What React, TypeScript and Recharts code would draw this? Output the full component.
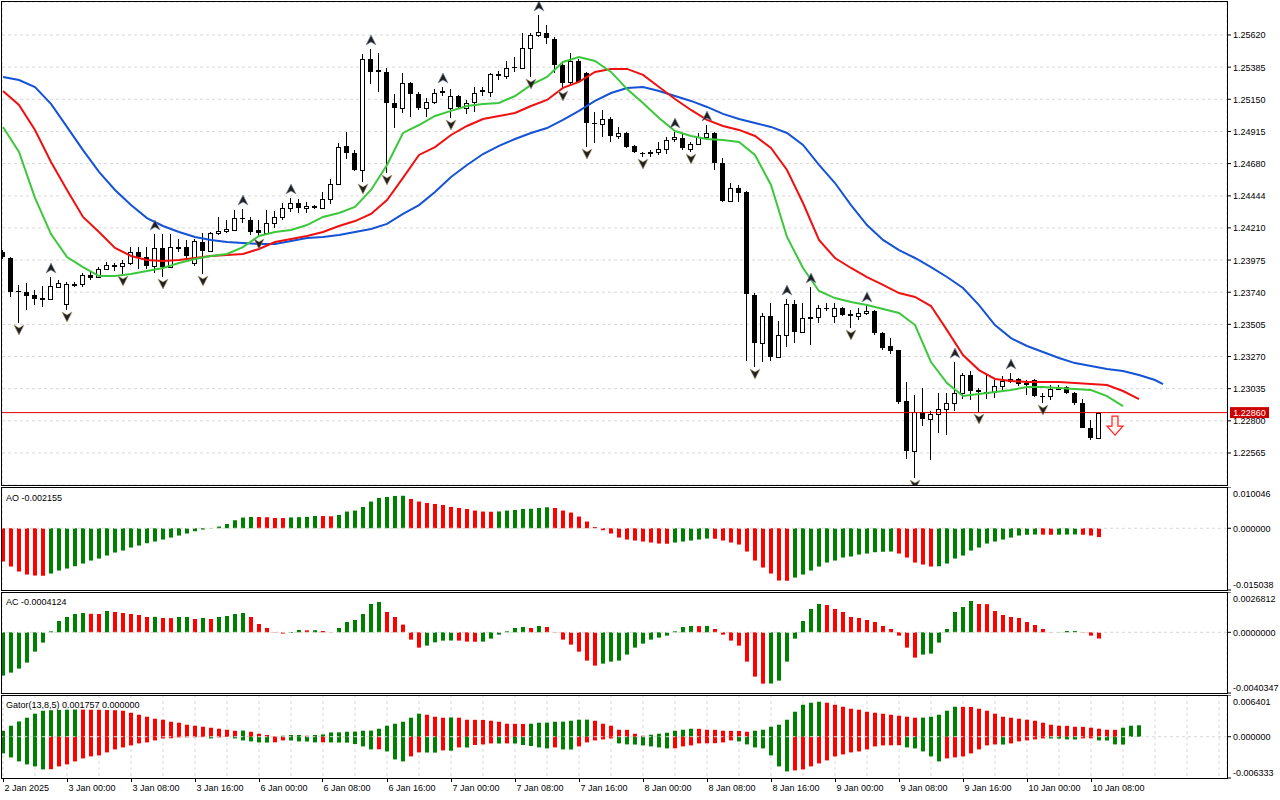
import React from "react";
import {
  Bar,
  CartesianGrid,
  Cell,
  ComposedChart,
  Line,
  ReferenceLine,
  Scatter,
  XAxis,
  YAxis,
} from "recharts";

// GBPUSD-style H1 bars, 2 Jan 16:00 .. 10 Jan 09:00 (bar index = position on the x axis)
const OPEN = [
  1.24034, 1.2399, 1.23749, 1.23741, 1.2372, 1.2369, 1.2369, 1.23778, 1.23654, 1.238,
  1.23803, 1.23866, 1.23851, 1.2391, 1.23939, 1.23932, 1.23953, 1.24034, 1.23997, 1.23932,
  1.24063, 1.23924, 1.2407, 1.2407, 1.23953, 1.24107, 1.24041, 1.24173, 1.24187, 1.24195,
  1.24282, 1.24268, 1.24195, 1.24173, 1.24246, 1.2429, 1.24356, 1.24392, 1.24356, 1.2437,
  1.24356, 1.24421, 1.24531, 1.24809, 1.24758, 1.24633, 1.25445, 1.25364, 1.2535, 1.25123,
  1.25087, 1.25269, 1.25189, 1.25087, 1.2513, 1.25211, 1.25087, 1.25174, 1.25087, 1.2513,
  1.25218, 1.25203, 1.25335, 1.2532, 1.25386, 1.25379, 1.25525, 1.2562, 1.25635, 1.25591,
  1.25401, 1.25277, 1.2543, 1.25342, 1.24977, 1.2497, 1.25006, 1.24882, 1.24904, 1.24809,
  1.2476, 1.24762, 1.24765, 1.24787, 1.2486, 1.24867, 1.24787, 1.24823, 1.24875, 1.24904,
  1.24684, 1.24407, 1.24502, 1.24472, 1.2372, 1.23369, 1.23566, 1.23266, 1.23427, 1.23654,
  1.23449, 1.23551, 1.2356, 1.23625, 1.23566, 1.23625, 1.23581, 1.23566, 1.23588, 1.23603,
  1.23441, 1.23347, 1.23317, 1.22944, 1.22579, 1.22864, 1.22813, 1.2285, 1.22886, 1.2293,
  1.23003, 1.23135, 1.23025, 1.2301, 1.2301, 1.23054, 1.23091, 1.23106, 1.23069, 1.23098,
  1.22981, 1.22978, 1.23032, 1.23045, 1.23003, 1.2293, 1.22747, 1.22674,
];
const HIGH = [
  1.24048, 1.23997, 1.23793, 1.23807, 1.23756, 1.23785, 1.23851, 1.23829, 1.23815, 1.23815,
  1.2388, 1.23895, 1.23924, 1.23961, 1.23953, 1.23975, 1.2407, 1.2407, 1.2407, 1.24165,
  1.24165, 1.24165, 1.24129, 1.24122, 1.24129, 1.24173, 1.2418, 1.2429, 1.24268, 1.24341,
  1.24348, 1.2429, 1.24268, 1.24341, 1.24334, 1.24392, 1.24429, 1.24421, 1.24399, 1.24377,
  1.24472, 1.24568, 1.24831, 1.24911, 1.24779, 1.25481, 1.25518, 1.25489, 1.25379, 1.25189,
  1.25342, 1.25277, 1.25203, 1.2516, 1.25225, 1.2524, 1.25225, 1.25182, 1.25145, 1.2524,
  1.2524, 1.25342, 1.25357, 1.2543, 1.25459, 1.25635, 1.25635, 1.25766, 1.25693, 1.25606,
  1.25415, 1.25489, 1.25445, 1.2535, 1.25057, 1.25072, 1.25021, 1.24948, 1.24911, 1.24816,
  1.24765, 1.24779, 1.24838, 1.24875, 1.24911, 1.24904, 1.24838, 1.24904, 1.24962, 1.24911,
  1.24721, 1.24538, 1.24524, 1.24478, 1.23734, 1.23588, 1.23661, 1.23529, 1.2369, 1.23683,
  1.23661, 1.23778, 1.23646, 1.23661, 1.23661, 1.23632, 1.2361, 1.23625, 1.2364, 1.2361,
  1.23449, 1.23405, 1.2332, 1.23084, 1.22989, 1.2304, 1.22872, 1.23003, 1.23003, 1.2323,
  1.23149, 1.23164, 1.2304, 1.23135, 1.23098, 1.23127, 1.23149, 1.23113, 1.23098, 1.23106,
  1.23003, 1.23062, 1.23062, 1.23054, 1.2301, 1.22959, 1.22806, 1.22866,
];
const LOW = [
  1.23983, 1.23705, 1.23515, 1.2361, 1.23646, 1.23632, 1.23683, 1.23771, 1.2361, 1.23778,
  1.23778, 1.23829, 1.23844, 1.23902, 1.23895, 1.23873, 1.23939, 1.2391, 1.2391, 1.2388,
  1.23851, 1.23917, 1.24034, 1.23975, 1.23932, 1.23873, 1.24034, 1.24158, 1.24173, 1.24187,
  1.24246, 1.24158, 1.24144, 1.24158, 1.24209, 1.24268, 1.24326, 1.24319, 1.24319, 1.24348,
  1.2435, 1.24385, 1.24524, 1.24714, 1.24626, 1.24546, 1.25262, 1.25203, 1.24611, 1.2494,
  1.2505, 1.25021, 1.25072, 1.25021, 1.25116, 1.25174, 1.25013, 1.25087, 1.25043, 1.25057,
  1.25174, 1.25167, 1.25291, 1.25299, 1.2535, 1.25376, 1.25313, 1.25606, 1.25554, 1.25342,
  1.25225, 1.25255, 1.25269, 1.24801, 1.24831, 1.24875, 1.24838, 1.2486, 1.24794, 1.2476,
  1.24728, 1.24728, 1.24743, 1.2475, 1.24838, 1.24779, 1.24765, 1.24816, 1.24867, 1.24633,
  1.24399, 1.24399, 1.24399, 1.23237, 1.23193, 1.2323, 1.23237, 1.23259, 1.23339, 1.23369,
  1.23441, 1.23354, 1.23515, 1.23603, 1.23515, 1.23566, 1.23478, 1.23537, 1.23573, 1.23427,
  1.23317, 1.23288, 1.22923, 1.22521, 1.22382, 1.22762, 1.22513, 1.22711, 1.22696, 1.22872,
  1.22959, 1.22952, 1.22864, 1.22959, 1.22967, 1.23025, 1.23076, 1.23054, 1.22989, 1.22974,
  1.2293, 1.22952, 1.23025, 1.22996, 1.22915, 1.22745, 1.2266, 1.22668,
];
const CLOSE = [
  1.23997, 1.23741, 1.23741, 1.23712, 1.2369, 1.23695, 1.23785, 1.23807, 1.238, 1.23803,
  1.23866, 1.23844, 1.2391, 1.23939, 1.23942, 1.23953, 1.24034, 1.23997, 1.23932, 1.24063,
  1.23924, 1.2407, 1.24073, 1.24005, 1.24114, 1.24041, 1.24173, 1.24187, 1.24202, 1.24282,
  1.24278, 1.2418, 1.24173, 1.24246, 1.2429, 1.24356, 1.24392, 1.24356, 1.2437, 1.24356,
  1.24421, 1.24531, 1.24801, 1.24758, 1.24633, 1.25445, 1.2535, 1.2535, 1.25123, 1.25087,
  1.25269, 1.25189, 1.25087, 1.2513, 1.25196, 1.25196, 1.25174, 1.25094, 1.25123, 1.25196,
  1.252, 1.25335, 1.2532, 1.25379, 1.25376, 1.25525, 1.2562, 1.25642, 1.25598, 1.25401,
  1.25269, 1.2543, 1.25277, 1.24977, 1.24975, 1.25006, 1.24882, 1.24904, 1.24801, 1.24765,
  1.24758, 1.24765, 1.24787, 1.24853, 1.24875, 1.24794, 1.24823, 1.24875, 1.24904, 1.24684,
  1.24407, 1.24502, 1.24465, 1.23727, 1.23369, 1.23566, 1.23266, 1.23427, 1.23654, 1.23449,
  1.23551, 1.2356, 1.23625, 1.23622, 1.23625, 1.23573, 1.23566, 1.23588, 1.23603, 1.23441,
  1.23332, 1.2331, 1.22937, 1.22579, 1.22864, 1.22813, 1.2285, 1.22886, 1.2293, 1.23003,
  1.23135, 1.23018, 1.2301, 1.23013, 1.23054, 1.23091, 1.23106, 1.23069, 1.23073, 1.22981,
  1.22978, 1.23032, 1.23045, 1.23003, 1.2293, 1.22747, 1.22674, 1.2286,
];

// Alligator lines, [bar, price], already shifted forward (jaw 8, teeth 5, lips 3)
const JAW = [
  [0, 1.25313], [2, 1.25291], [4, 1.2524], [6, 1.25116], [8, 1.24948], [10, 1.24779],
  [12, 1.24619], [14, 1.24487], [16, 1.24377], [18, 1.24282], [20, 1.24224], [22, 1.2418],
  [24, 1.24144], [26, 1.24122], [28, 1.24107], [30, 1.241], [32, 1.24092], [34, 1.24092],
  [36, 1.24114], [38, 1.24136], [40, 1.24144], [42, 1.24158], [44, 1.2418], [46, 1.24202],
  [48, 1.24239], [50, 1.24312], [52, 1.24377], [54, 1.24472], [56, 1.24582], [58, 1.2467],
  [60, 1.2475], [62, 1.24809], [64, 1.2486], [66, 1.24904], [68, 1.2494], [70, 1.24999],
  [72, 1.25065], [74, 1.25138], [76, 1.25196], [78, 1.25233], [80, 1.2524], [82, 1.25211],
  [84, 1.25174], [86, 1.25138], [88, 1.25094], [90, 1.25043], [92, 1.25006], [94, 1.24977],
  [96, 1.24948], [98, 1.24904], [100, 1.24816], [102, 1.2467], [104, 1.24538], [106, 1.24377],
  [108, 1.24231], [110, 1.24122], [112, 1.24048], [114, 1.2399], [116, 1.23924], [118, 1.23851],
  [120, 1.23771], [122, 1.23646], [124, 1.235], [126, 1.23405], [128, 1.23347], [130, 1.23303],
  [132, 1.23259], [134, 1.23222], [136, 1.23201], [138, 1.23179], [140, 1.23164], [142, 1.23135],
  [144, 1.23098], [145, 1.23069],
];
const TEETH = [
  [0, 1.25211], [2, 1.25108], [4, 1.24926], [6, 1.24692], [8, 1.24487], [10, 1.2429],
  [12, 1.2418], [14, 1.24063], [16, 1.24005], [18, 1.23975], [20, 1.23968], [22, 1.23975],
  [24, 1.2399], [26, 1.24005], [28, 1.24012], [30, 1.24019], [32, 1.24056], [34, 1.24107],
  [36, 1.24129], [38, 1.24151], [40, 1.2418], [42, 1.24224], [44, 1.2426], [46, 1.24312],
  [48, 1.24414], [50, 1.24575], [52, 1.24743], [54, 1.24801], [56, 1.24889], [58, 1.24955],
  [60, 1.25006], [62, 1.25028], [64, 1.2505], [66, 1.25101], [68, 1.25145], [70, 1.25233],
  [72, 1.25277], [74, 1.2535], [76, 1.25372], [78, 1.25372], [80, 1.25328], [82, 1.2524],
  [84, 1.25152], [86, 1.25072], [88, 1.24999], [90, 1.24955], [92, 1.24926], [94, 1.24882],
  [96, 1.24794], [98, 1.24633], [100, 1.24392], [102, 1.24122], [104, 1.2399], [106, 1.23917],
  [108, 1.23851], [110, 1.23793], [112, 1.23734], [114, 1.23705], [116, 1.23639], [118, 1.23463],
  [120, 1.23281], [122, 1.23171], [124, 1.23106], [126, 1.23091], [128, 1.23084], [130, 1.23084],
  [132, 1.23084], [134, 1.23076], [136, 1.23069], [138, 1.23062], [140, 1.23018], [142, 1.22959],
];
const LIPS = [
  [0, 1.24948], [2, 1.24765], [4, 1.24429], [6, 1.24165], [8, 1.23997], [10, 1.23924],
  [12, 1.23858], [14, 1.23858], [16, 1.23873], [18, 1.23895], [20, 1.23917], [22, 1.23953],
  [24, 1.23983], [26, 1.24005], [28, 1.24019], [30, 1.2407], [32, 1.24151], [34, 1.2418],
  [36, 1.24195], [38, 1.24231], [40, 1.2429], [42, 1.24319], [44, 1.24363], [46, 1.24487],
  [48, 1.2467], [50, 1.24904], [52, 1.24962], [54, 1.25028], [56, 1.25065], [58, 1.25101],
  [60, 1.25116], [62, 1.25123], [64, 1.25174], [66, 1.25255], [68, 1.25313], [70, 1.25423],
  [72, 1.25459], [74, 1.2543], [76, 1.2535], [78, 1.25225], [80, 1.25123], [82, 1.25013],
  [84, 1.24918], [86, 1.24882], [88, 1.2486], [90, 1.24853], [92, 1.24838], [94, 1.24743],
  [96, 1.24524], [98, 1.24144], [100, 1.23917], [102, 1.23749], [104, 1.23697], [106, 1.23668],
  [108, 1.23646], [110, 1.23617], [112, 1.23588], [114, 1.235], [116, 1.2323], [118, 1.23076],
  [120, 1.22981], [122, 1.22996], [124, 1.2301], [126, 1.23025], [128, 1.23047], [130, 1.23047],
  [132, 1.2304], [134, 1.23032], [136, 1.23025], [138, 1.22981], [140, 1.22908],
];

// bars carrying a fractal mark
const FRACTAL_UP = [6, 19, 30, 36, 46, 55, 67, 84, 88, 98, 101, 108, 119, 126];
const FRACTAL_DOWN = [2, 8, 15, 20, 25, 32, 45, 48, 56, 66, 70, 73, 80, 86, 94, 106, 114, 122, 130];

// sell signal arrow
const SIGNAL_BAR = 139;
const SIGNAL_PRICE = 1.22835;

const AO = [
  -0.008109, -0.009326, -0.010544, -0.011274, -0.011518, -0.011566, -0.011031, -0.0103, -0.009813, -0.009253,
  -0.008596, -0.007865, -0.007378, -0.006648, -0.005917, -0.00543, -0.0047, -0.004213, -0.003653, -0.003239,
  -0.002752, -0.002265, -0.001778, -0.001291, -0.000731, -0.000317, -0.000073, 0.000414, 0.001047, 0.001948,
  0.002605, 0.002752, 0.002727, 0.002679, 0.002508, 0.002484, 0.00263, 0.002703, 0.002776, 0.002995,
  0.002971, 0.002922, 0.003239, 0.004066, 0.00431, 0.005187, 0.006501, 0.007378, 0.007622, 0.007865,
  0.007914, 0.007135, 0.006501, 0.006161, 0.005917, 0.005674, 0.005187, 0.004943, 0.0047, 0.00431,
  0.004066, 0.004018, 0.004091, 0.00431, 0.004456, 0.0047, 0.004748, 0.004943, 0.005114, 0.004943,
  0.00431, 0.003823, 0.002849, 0.001631, 0.000317, -0.000487, -0.001291, -0.002265, -0.002752, -0.002995,
  -0.003239, -0.003482, -0.003726, -0.003774, -0.003482, -0.003239, -0.002995, -0.002752, -0.002508, -0.002557,
  -0.002995, -0.003482, -0.003969, -0.005674, -0.007865, -0.00957, -0.011031, -0.012735, -0.012784, -0.012005,
  -0.011274, -0.0103, -0.009326, -0.008352, -0.007865, -0.007135, -0.006891, -0.006404, -0.006161, -0.005844,
  -0.005722, -0.005674, -0.006161, -0.007135, -0.008352, -0.008839, -0.009326, -0.009253, -0.008596, -0.007378,
  -0.006648, -0.00543, -0.0047, -0.003726, -0.003239, -0.002752, -0.002265, -0.001778, -0.001583, -0.001534,
  -0.001558, -0.001583, -0.001558, -0.001534, -0.00151, -0.001583, -0.001778, -0.002155,
];
const AC = [
  -0.0028795, -0.00268, -0.002414, -0.002015, -0.0012835, -0.000685, 0.0000665, 0.0007515, 0.0010175, 0.001217,
  0.0012835, 0.0012303, 0.001217, 0.0014165, 0.00135, 0.0012835, 0.001217, 0.0011505, 0.0010175, 0.0010308,
  0.000951, 0.0009443, 0.0010175, 0.0010241, 0.0008845, 0.000951, 0.0008845, 0.0010175, 0.001084, 0.001217,
  0.0012835, 0.0010175, 0.000552, 0.000286, -0.00002, -0.0000865, -0.0000466, 0.000153, 0.000133, 0.0001397,
  0.0000865, -0.00002, 0.000286, 0.000685, 0.000818, 0.001217, 0.001882, 0.002015, 0.00135, 0.0010175,
  0.0005121, -0.0004855, -0.0010175, -0.0008845, -0.000665, -0.000552, -0.0005453, -0.000552, -0.0006185, -0.0006251,
  -0.0006185, -0.000419, -0.000153, 0.0000665, 0.000286, 0.0003525, 0.000286, 0.000419, 0.0003525, -0.00002,
  -0.0004855, -0.000818, -0.0012835, -0.001882, -0.0022145, -0.0020815, -0.0019485, -0.001882, -0.001483, -0.0010175,
  -0.0007515, -0.0004855, -0.0003525, -0.0002195, 0.0000665, 0.0003525, 0.000419, 0.0004123, 0.0004256, 0.0002195,
  -0.000153, -0.000552, -0.0008845, -0.0019485, -0.002946, -0.0034115, -0.0034048, -0.003212, -0.0019485, -0.000419,
  0.0007515, 0.0015495, 0.001882, 0.0018155, 0.0015495, 0.00135, 0.0010175, 0.000951, 0.000818, 0.000685,
  0.000419, 0.0002195, -0.0002195, -0.0010175, -0.0016825, -0.001483, -0.0014165, -0.000685, 0.0002195, 0.00135,
  0.0016825, 0.0020815, 0.001882, 0.0018753, 0.0014165, 0.0011505, 0.0010175, 0.000951, 0.000685, 0.0004855,
  0.0002195, -0.00002, -0.0000133, 0.0000865, 0.0000931, -0.00002, -0.0002195, -0.0004124,
];
// Gator histogram (shifted 5 bars): |jaw - teeth| above zero, |teeth - lips| below zero
const GATOR_UP = [
  0.00092, 0.001687, 0.002347, 0.002915, 0.003528, 0.003988, 0.004065, 0.004111, 0.004142, 0.004172,
  0.004157, 0.004142, 0.004126, 0.004096, 0.004065, 0.003988, 0.003682, 0.003375, 0.003068, 0.002761,
  0.002608, 0.002301, 0.002148, 0.001841, 0.001687, 0.001534, 0.001381, 0.001227, 0.001074, 0.00092,
  0.000951, 0.000767, 0.00046, 0.000261, 0.000046, 0.000153, 0.000261, 0.000276, 0.000153, 0.000261,
  0.000353, 0.00066, 0.000675, 0.000767, 0.000782, 0.00092, 0.000936, 0.001227, 0.001687, 0.001994,
  0.002301, 0.002915, 0.003528, 0.003375, 0.003068, 0.002915, 0.002961, 0.002915, 0.002608, 0.002592,
  0.002577, 0.002454, 0.002301, 0.001994, 0.001979, 0.001964, 0.001994, 0.002148, 0.002163, 0.002301,
  0.002316, 0.002454, 0.002608, 0.002623, 0.002454, 0.001994, 0.001687, 0.001074, 0.001058, 0.00046,
  0.000153, 0.000307, 0.00046, 0.000614, 0.00092, 0.001074, 0.001227, 0.001212, 0.001074, 0.001058,
  0.00092, 0.000905, 0.00089, 0.000767, 0.00092, 0.001074, 0.001534, 0.001841, 0.002608, 0.003835,
  0.004909, 0.005216, 0.005369, 0.005216, 0.004909, 0.004602, 0.004295, 0.004142, 0.003835, 0.003682,
  0.003528, 0.003375, 0.003221, 0.003068, 0.002915, 0.00293, 0.003068, 0.003375, 0.003988, 0.004602,
  0.004587, 0.004571, 0.004295, 0.003988, 0.003528, 0.003068, 0.002915, 0.002761, 0.002608, 0.002454,
  0.002148, 0.001841, 0.001687, 0.001672, 0.001534, 0.001519, 0.001381, 0.001227, 0.001074, 0.001058,
  0.001381, 0.001687, 0.001757,
];
const GATOR_DOWN = [
  0.002562, 0.003175, 0.003789, 0.004249, 0.004556, 0.005016, 0.004986, 0.004556, 0.004249, 0.003789,
  0.003329, 0.003022, 0.002869, 0.002408, 0.001948, 0.001641, 0.001335, 0.001028, 0.000874, 0.000568,
  0.000261, 0.000245, 0.000107, 0.000092, 0.000077, 0.000061, 0.000261, 0.000107, 0.000046, 0.000261,
  0.000568, 0.000721, 0.000874, 0.00089, 0.000859, 0.000568, 0.000583, 0.000721, 0.000736, 0.000874,
  0.000859, 0.000874, 0.00089, 0.000905, 0.00112, 0.001488, 0.001948, 0.001933, 0.002255, 0.003482,
  0.003789, 0.003022, 0.002408, 0.002424, 0.002439, 0.002102, 0.002148, 0.001641, 0.001657, 0.001273,
  0.001181, 0.001028, 0.001043, 0.001028, 0.001043, 0.001273, 0.001427, 0.001641, 0.001795, 0.001641,
  0.001948, 0.001964, 0.001488, 0.000874, 0.000568, 0.000414, 0.000261, 0.001028, 0.001181, 0.001197,
  0.001335, 0.001488, 0.001641, 0.001795, 0.001779, 0.001488, 0.001335, 0.001028, 0.001012, 0.000997,
  0.000874, 0.000568, 0.000721, 0.001181, 0.001641, 0.001795, 0.002869, 0.004556, 0.005323, 0.00517,
  0.005016, 0.004556, 0.004096, 0.003636, 0.003022, 0.002715, 0.002408, 0.002255, 0.001948, 0.001488,
  0.001335, 0.001319, 0.001304, 0.001641, 0.001795, 0.002255, 0.003022, 0.003789, 0.003329, 0.003175,
  0.003022, 0.002562, 0.001948, 0.001335, 0.001181, 0.001197, 0.001028, 0.000721, 0.000568, 0.000414,
  0.000261, 0.000276, 0.000291, 0.000414, 0.00043, 0.000261, 0.000245, 0.000568, 0.000583, 0.001181,
  0.001197, 0, 0,
];

const PRICE_TICKS = [
  1.2562, 1.25385, 1.2515, 1.24915, 1.2468, 1.24444, 1.2421, 1.23975, 1.2374, 1.23505,
  1.2327, 1.23035, 1.228, 1.22565,
];
const TIME_LABELS = [
  "2 Jan 2025", "3 Jan 00:00", "3 Jan 08:00", "3 Jan 16:00", "6 Jan 00:00", "6 Jan 08:00",
  "6 Jan 16:00", "7 Jan 00:00", "7 Jan 08:00", "7 Jan 16:00", "8 Jan 00:00", "8 Jan 08:00",
  "8 Jan 16:00", "9 Jan 00:00", "9 Jan 08:00", "9 Jan 16:00", "10 Jan 00:00", "10 Jan 08:00",
];
const LABEL_BARS = [0, 8, 16, 24, 32, 40, 48, 56, 64, 72, 80, 88, 96, 104, 112, 120, 128, 136];

const PRICE_RANGE: [number, number] = [1.22331, 1.25861];
const AO_RANGE: [number, number] = [-0.015038, 0.010046];
const AC_RANGE: [number, number] = [-0.0040347, 0.0026812];
const GATOR_RANGE: [number, number] = [-0.006333, 0.006401];

const X_DOMAIN: [number, number] = [-0.125, 153];
const GRID_BARS = Array.from({ length: 38 }, (_, k) => 4 + 4 * k);

const FONT = "'Liberation Sans', Arial, sans-serif";
const GRID = "#d8d8d8";
const UP = "#008000";
const DOWN = "#ff0000";

const candles = OPEN.map((o, i) => ({ i, o, h: HIGH[i], l: LOW[i], c: CLOSE[i] }));
const toPoints = (pairs: number[][]) => pairs.map(([i, v]) => ({ i, v }));
const rising = (vals: number[], first: boolean) =>
  vals.map((v, k) => (k === 0 ? first : v > vals[k - 1]));

const lastClose = CLOSE[CLOSE.length - 1];
const upMarks = FRACTAL_UP.map((i) => ({ i, v: HIGH[i] }));
const downMarks = FRACTAL_DOWN.map((i) => ({ i, v: LOW[i] }));
const aoData = AO.map((v, i) => ({ i, v }));
const acData = AC.map((v, i) => ({ i, v }));
const gatorData = GATOR_UP.map((u, i) => ({ i, up: u, dn: -GATOR_DOWN[i] }));

function Candle(props: any) {
  const { x, y, width, height, payload } = props;
  if (!payload || !Number.isFinite(y)) return null;
  const top = Math.min(y, y + height);
  const span = Math.abs(height);
  const { o, h, l, c } = payload;
  const k = h > l ? span / (h - l) : 0;
  const yo = top + (h - o) * k;
  const yc = top + (h - c) * k;
  const cx = Math.floor(x + width / 2) + 0.5;
  const bodyTop = Math.round(Math.min(yo, yc));
  const bodyH = Math.max(1, Math.round(Math.abs(yo - yc)));
  return (
    <g>
      <line x1={cx} x2={cx} y1={Math.round(top)} y2={Math.round(top + span)} stroke="#000" />
      {c >= o ? (
        <rect x={cx - 2} y={bodyTop + 0.5} width={4} height={bodyH} fill="#fff" stroke="#000" />
      ) : (
        <rect x={cx - 2.5} y={bodyTop} width={5} height={bodyH} fill="#000" />
      )}
    </g>
  );
}

function FractalUp({ cx, cy }: any) {
  const y = cy - 9;
  return (
    <path
      d={`M${cx},${y - 5} L${cx + 5},${y + 5} L${cx},${y + 2} L${cx - 5},${y + 5} Z`}
      fill="#202020"
      stroke="#7a86a8"
      strokeWidth={0.6}
    />
  );
}

function FractalDown({ cx, cy }: any) {
  const y = cy + 7;
  return (
    <path
      d={`M${cx},${y + 5} L${cx + 5},${y - 5} L${cx},${y - 2} L${cx - 5},${y - 5} Z`}
      fill="#202020"
      stroke="#a89a70"
      strokeWidth={0.6}
    />
  );
}

function SignalArrow({ cx, cy }: any) {
  return (
    <path
      d={`M${cx - 3},${cy} H${cx + 3} V${cy + 10} H${cx + 8} L${cx},${cy + 19} L${cx - 8},${cy + 10} H${cx - 3} Z`}
      fill="#fff4ee"
      stroke="#ff2020"
      strokeWidth={1.2}
    />
  );
}

function PriceTag({ viewBox, text }: any) {
  if (!viewBox) return null;
  const right = viewBox.x + viewBox.width;
  return (
    <g>
      <rect x={right + 3} y={viewBox.y - 5.5} width={39} height={11} fill="#cc0000" />
      <text
        x={right + 22.5}
        y={viewBox.y + 3.5}
        textAnchor="middle"
        fontSize={9}
        fontFamily={FONT}
        fill="#fff"
      >
        {text}
      </text>
    </g>
  );
}

const priceTick = ({ x, y, payload }: any) => (
  <g>
    <line x1={x} x2={x + 4} y1={y} y2={y} stroke="#000" />
    <text x={x + 6} y={y + 3.5} fontSize={9} fontFamily={FONT} fill="#000">
      {payload.value.toFixed(5)}
    </text>
  </g>
);

const subTick =
  (digits: number, [lo, hi]: [number, number]) =>
  ({ x, y, payload }: any) => {
    const v = payload.value;
    const shift = v === hi ? 6 : v === lo ? -6 : 0;
    return (
      <g>
        <line x1={x} x2={x + 4} y1={y} y2={y} stroke="#000" />
        <text x={x + 6} y={y + shift + 3.5} fontSize={9} fontFamily={FONT} fill="#000">
          {v.toFixed(digits)}
        </text>
      </g>
    );
  };

const timeTick = ({ x, y, payload }: any) => {
  const k = LABEL_BARS.indexOf(payload.value);
  if (k < 0) return <g />;
  const px = Math.floor(x) + 0.5;
  return (
    <g>
      <line x1={px} x2={px} y1={y} y2={y + 4} stroke="#000" />
      <text x={px + 1} y={y + 12.5} fontSize={9} fontFamily={FONT} fill="#000">
        {TIME_LABELS[k]}
      </text>
    </g>
  );
};

function HiddenX({ ticks }: { ticks: number[] }) {
  return null;
}

function SubPanel({
  top,
  height,
  data,
  range,
  digits,
  children,
  bottomAxis,
}: any) {
  return (
    <div style={{ position: "absolute", left: 0, top }}>
      <ComposedChart
        width={1280}
        height={height}
        data={data}
        stackOffset="sign"
        margin={{ top: 0, right: 0, bottom: bottomAxis ? 0 : 1, left: 2 }}
      >
        <CartesianGrid stroke={GRID} strokeDasharray="3 3" horizontal={false} />
        <XAxis
          dataKey="i"
          type="number"
          domain={X_DOMAIN}
          allowDataOverflow
          ticks={bottomAxis ? [0, ...GRID_BARS] : GRID_BARS}
          interval={0}
          height={bottomAxis ? 22 : 0}
          axisLine={false}
          tickLine={false}
          tickSize={0}
          tickMargin={0}
          tick={bottomAxis ? timeTick : false}
        />
        <YAxis
          orientation="right"
          type="number"
          width={53}
          domain={range}
          allowDataOverflow
          ticks={[range[0], 0, range[1]]}
          interval={0}
          axisLine={false}
          tickLine={false}
          tickSize={0}
          tickMargin={0}
          tick={subTick(digits, range)}
        />
        <ReferenceLine y={0} stroke={GRID} strokeDasharray="3 3" />
        {children}
      </ComposedChart>
    </div>
  );
}

export default function App() {
  const aoUp = rising(AO, false);
  const acUp = rising(AC, true);
  const gUp = rising(GATOR_UP, true);
  const gDn = rising(GATOR_DOWN, true);

  return (
    <div
      style={{
        position: "fixed",
        left: 0,
        top: 0,
        width: 1280,
        height: 800,
        background: "#fff",
        overflow: "hidden",
        fontFamily: FONT,
      }}
    >
      <div style={{ position: "absolute", left: 0, top: 0 }}>
        <ComposedChart
          width={1280}
          height={486}
          data={candles}
          margin={{ top: 2, right: 0, bottom: 1, left: 2 }}
        >
          <CartesianGrid stroke={GRID} strokeDasharray="3 3" />
          <XAxis
            dataKey="i"
            type="number"
            domain={X_DOMAIN}
            allowDataOverflow
            ticks={GRID_BARS}
            interval={0}
            height={0}
            axisLine={false}
            tickLine={false}
            tick={false}
          />
          <YAxis
            orientation="right"
            type="number"
            width={53}
            domain={PRICE_RANGE}
            allowDataOverflow
            ticks={PRICE_TICKS}
            interval={0}
            axisLine={false}
            tickLine={false}
            tickSize={0}
            tickMargin={0}
            tick={priceTick}
          />
          <Bar
            dataKey={(d: any) => [d.l, d.h]}
            barSize={5}
            shape={<Candle />}
            isAnimationActive={false}
          />
          <ReferenceLine
            y={lastClose}
            stroke="#e00000"
            label={<PriceTag text={lastClose.toFixed(5)} />}
          />
          <Line data={toPoints(JAW)} dataKey="v" stroke="#1452d6" strokeWidth={2} dot={false} isAnimationActive={false} />
          <Line data={toPoints(TEETH)} dataKey="v" stroke="#f01010" strokeWidth={2} dot={false} isAnimationActive={false} />
          <Line data={toPoints(LIPS)} dataKey="v" stroke="#3cc83c" strokeWidth={2} dot={false} isAnimationActive={false} />
          <Scatter data={upMarks} dataKey="v" shape={<FractalUp />} isAnimationActive={false} />
          <Scatter data={downMarks} dataKey="v" shape={<FractalDown />} isAnimationActive={false} />
          <Scatter
            data={[{ i: SIGNAL_BAR, v: SIGNAL_PRICE }]}
            dataKey="v"
            shape={<SignalArrow />}
            isAnimationActive={false}
          />
        </ComposedChart>
      </div>

      <SubPanel top={487} height={104} data={aoData} range={AO_RANGE} digits={6}>
        <Bar dataKey="v" barSize={4} isAnimationActive={false}>
          {aoData.map((d) => (
            <Cell key={d.i} fill={aoUp[d.i] ? UP : DOWN} />
          ))}
        </Bar>
      </SubPanel>

      <SubPanel top={592} height={102} data={acData} range={AC_RANGE} digits={7}>
        <Bar dataKey="v" barSize={4} isAnimationActive={false}>
          {acData.map((d) => (
            <Cell key={d.i} fill={acUp[d.i] ? UP : DOWN} />
          ))}
        </Bar>
      </SubPanel>

      <SubPanel top={695} height={105} data={gatorData} range={GATOR_RANGE} digits={6} bottomAxis>
        <Bar dataKey="up" stackId="g" barSize={4} isAnimationActive={false}>
          {gatorData.map((d) => (
            <Cell key={d.i} fill={gUp[d.i] ? UP : DOWN} />
          ))}
        </Bar>
        <Bar dataKey="dn" stackId="g" barSize={4} isAnimationActive={false}>
          {gatorData.map((d) => (
            <Cell key={d.i} fill={gDn[d.i] ? UP : DOWN} />
          ))}
        </Bar>
      </SubPanel>

      <svg
        width={1280}
        height={800}
        style={{ position: "absolute", left: 0, top: 0, pointerEvents: "none" }}
      >
        <g fill="none" stroke="#000" strokeWidth={1}>
          <rect x={1.5} y={1.5} width={1226} height={484} />
          <rect x={1.5} y={487.5} width={1226} height={103} />
          <rect x={1.5} y={592.5} width={1226} height={101} />
          <rect x={1.5} y={695.5} width={1226} height={83} />
        </g>
        <g fontSize={9} fontFamily={FONT} fill="#000">
          <text x={6} y={501}>{`AO ${AO[AO.length - 1].toFixed(6)}`}</text>
          <text x={6} y={605}>{`AC ${AC[AC.length - 1].toFixed(7)}`}</text>
          <text x={6} y={708}>
            {`Gator(13,8,5) ${GATOR_UP[GATOR_UP.length - 1].toFixed(6)} ${GATOR_DOWN[
              GATOR_DOWN.length - 1
            ].toFixed(6)}`}
          </text>
        </g>
      </svg>
    </div>
  );
}
